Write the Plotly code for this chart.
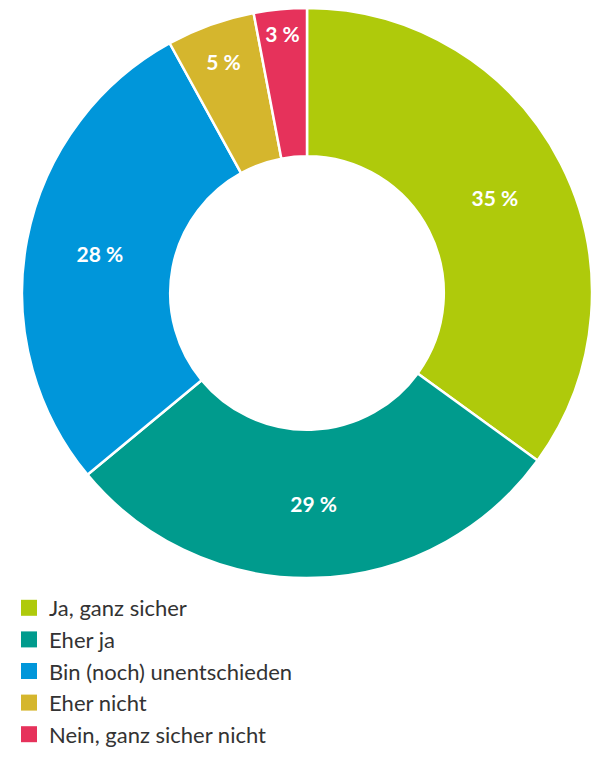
import plotly.graph_objects as go

categories = ["Ja, ganz sicher", "Eher ja", "Bin (noch) unentschieden", "Eher nicht", "Nein, ganz sicher nicht"]
values = [35, 29, 28, 5, 3]
colors = ["#AFCA0B", "#009B8D", "#0096DA", "#D5B62D", "#E6325B"]

W, H = 593, 758

fig = go.Figure()
fig.add_trace(go.Pie(
    labels=categories,
    values=values,
    sort=False,
    direction="clockwise",
    rotation=0,
    hole=0.48,
    marker=dict(colors=colors, line=dict(color="white", width=2.5)),
    texttemplate="%{value} %",
    textinfo="text",
    textposition="inside",
    insidetextorientation="horizontal",
    insidetextfont=dict(color="white", size=21, family="Lato", weight="bold"),
    domain=dict(x=[21 / W, 1.0], y=[180 / H, 750 / H]),
    showlegend=False,
    hoverinfo="label+percent",
))

# legend entries (square swatches) for each category
for i, (cat, col) in enumerate(zip(categories, colors)):
    fig.add_trace(go.Scatter(
        x=[None], y=[None], mode="markers", name=cat,
        marker=dict(symbol="square", size=16, color=col),
        legendgroup=f"g{i}", showlegend=True, hoverinfo="skip",
    ))

fig.update_layout(
    width=W, height=H,
    margin=dict(l=0, r=0, t=0, b=0),
    paper_bgcolor="white",
    plot_bgcolor="white",
    xaxis=dict(visible=False),
    yaxis=dict(visible=False),
    legend=dict(
        x=9 / W, y=1 - 587 / H, xanchor="left", yanchor="top",
        font=dict(family="Lato", size=22, color="#333333"),
        traceorder="normal",
        itemsizing="trace",
        bgcolor="rgba(0,0,0,0)",
    ),
)

fig.write_html(
    "out.html",
    config={"displayModeBar": False},
    post_script="document.body.style.margin='0';document.body.style.overflow='hidden';",
)
